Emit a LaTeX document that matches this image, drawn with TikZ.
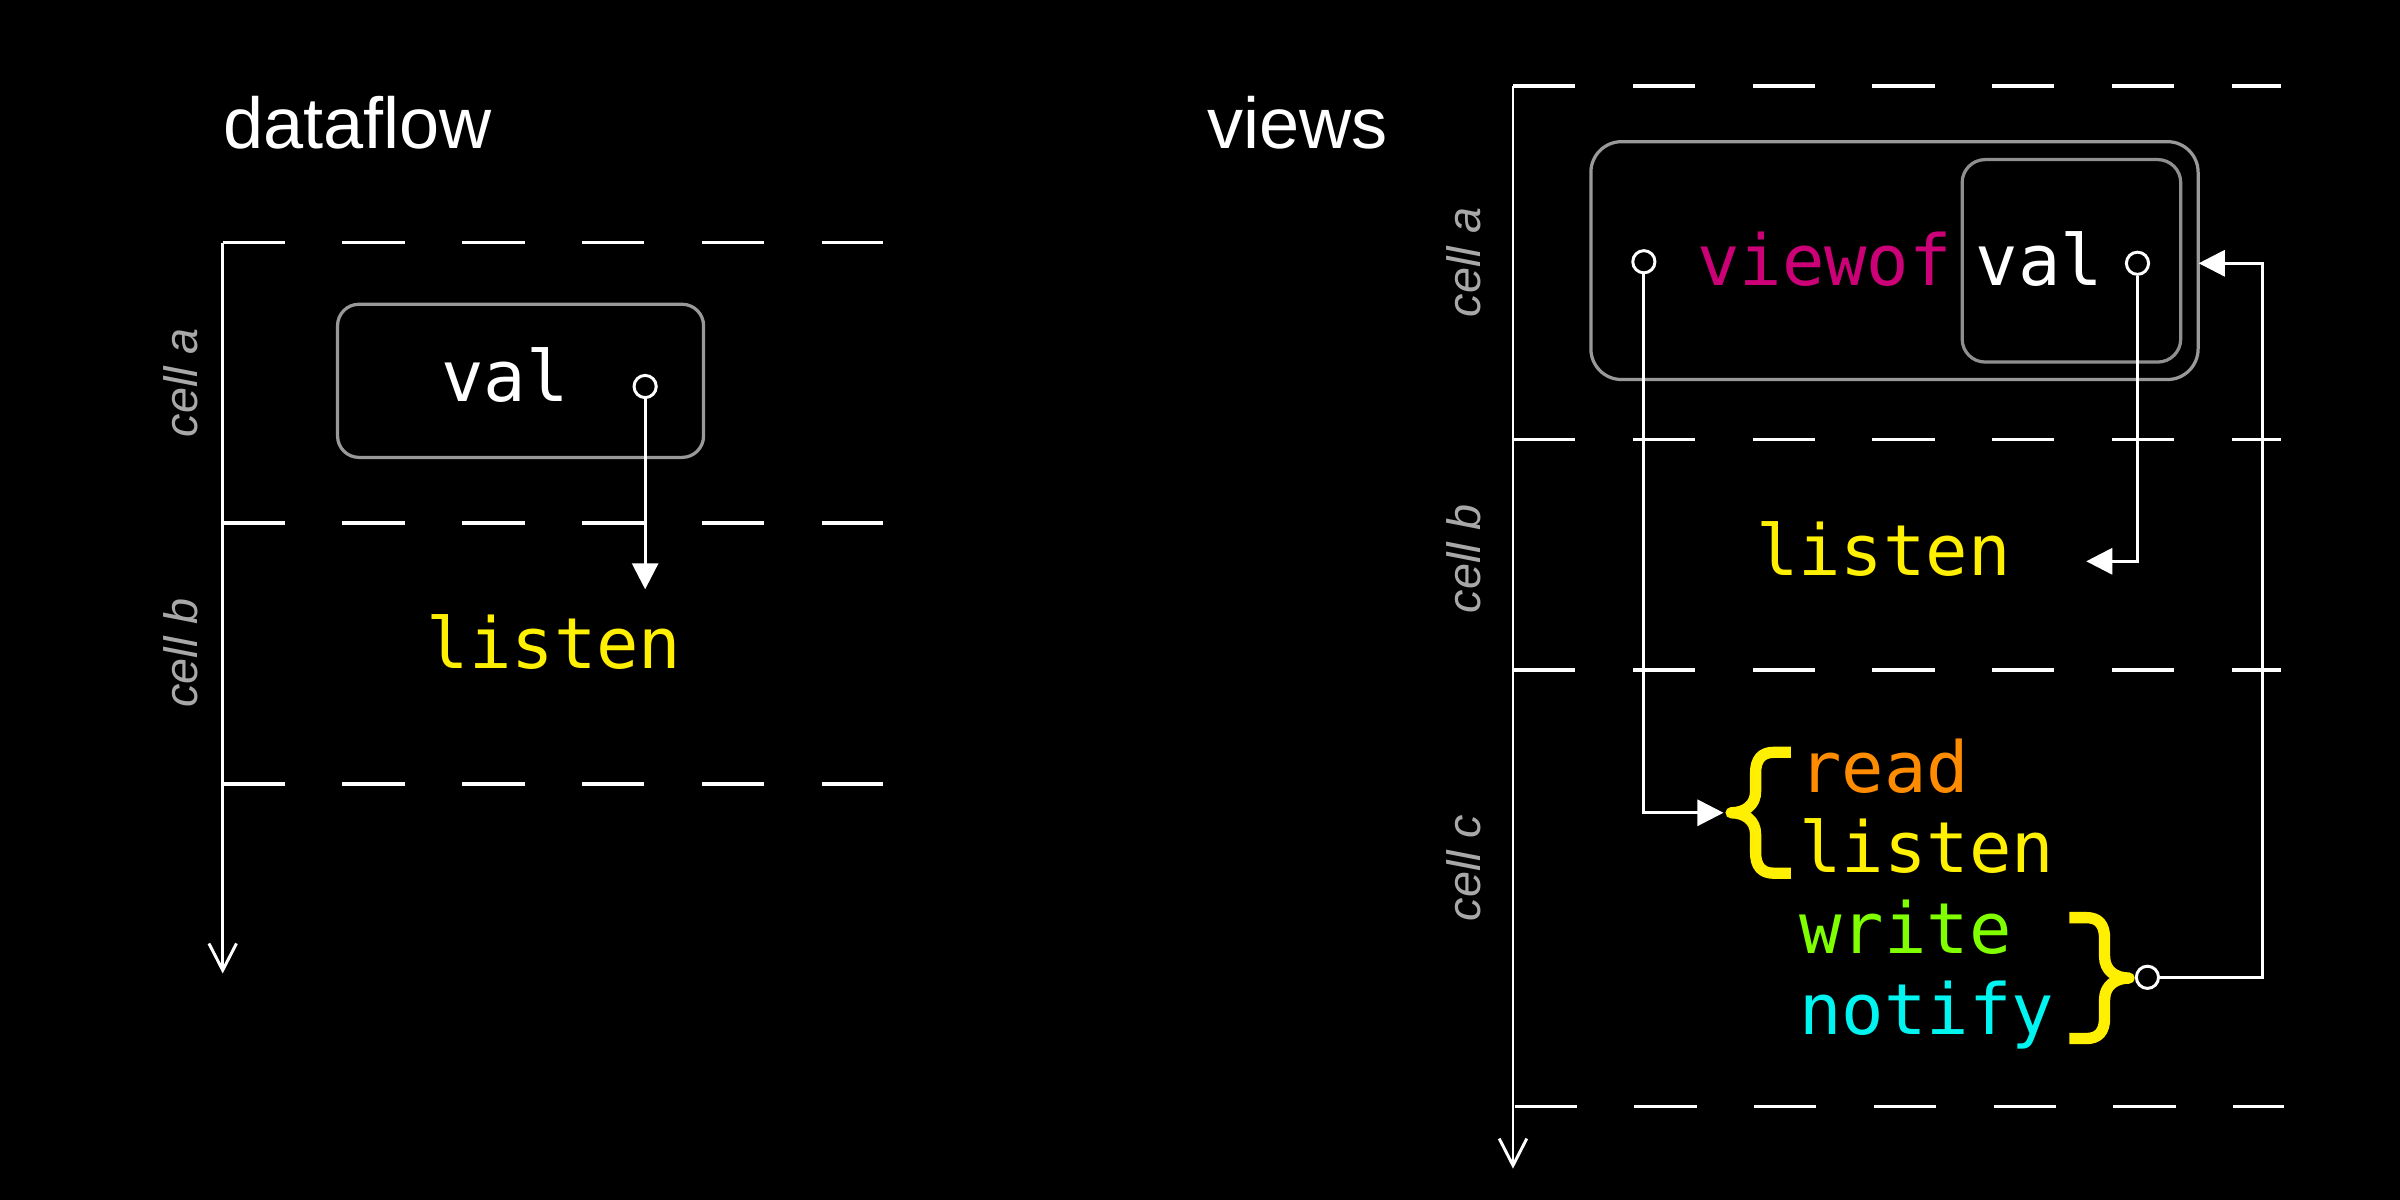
\documentclass[tikz,border=0pt]{standalone}
\usepackage{fontspec}
\setmainfont{Liberation Sans}
\newfontfamily\codefont{DejaVu Sans Mono}
\usetikzlibrary{arrows.meta,calc}
\definecolor{boxgray}{HTML}{999999}
\definecolor{labelgray}{HTML}{A8A8A8}
\definecolor{codeyellow}{HTML}{FFEF00}
\definecolor{codeorange}{HTML}{FF8C00}
\definecolor{codegreen}{HTML}{80FF00}
\definecolor{codecyan}{HTML}{00F5F0}
\definecolor{codemagenta}{HTML}{CC0077}
\begin{document}
\begin{tikzpicture}[x=0.01cm,y=-0.01cm,
  title/.style={text=white, font=\fontsize{13.4}{16}\selectfont, inner sep=0pt, anchor=base west},
  code/.style={font=\codefont\fontsize{13.1}{15}\selectfont, inner sep=0pt, anchor=base},
  celllabel/.style={text=labelgray, font=\itshape\fontsize{8.7}{10}\selectfont, rotate=90, inner sep=0pt, anchor=base},
  gbox/.style={draw=boxgray, line width=0.6pt, inner sep=0pt},
  port/.style={circle, draw=white, fill=black, line width=0.55pt, minimum size=1.45mm, inner sep=0pt},
  conn/.style={draw=white, line width=0.55pt, -{Triangle[length=1.7mm,width=1.7mm]}},
  axisline/.style={draw=white, line width=0.55pt, -{Straight Barb[length=1.75mm,width=1.8mm]}},
  cellline/.style={draw=white, line width=0.65pt, dash pattern=on 4.07mm off 3.75mm},
  bracepath/.style={draw=codeyellow, line width=2.1pt, line cap=butt, line join=round}
]
\fill[black] (0,0) rectangle (1568,784);
\useasboundingbox (0,0) rectangle (1568,784);

% ---------- left panel: dataflow ----------
\node[title] (t1) at (145,97) {dataflow};
\coordinate (la0) at (145.5,158.5);
\coordinate (la1) at (145.5,636);
\draw[axisline] (la0) -- (la1);
\draw[cellline] (145.5,158.5) -- (577,158.5);
\draw[cellline] (145.5,341.7) -- (577,341.7);
\draw[cellline] (145.5,512.3) -- (577,512.3);
\node[celllabel] (la) at (129,250) {cell a};
\node[celllabel] (lb) at (129,426.5) {cell b};

\node[gbox, rounded corners=1.4mm, minimum width=2.39cm, minimum height=1.0cm] (vbox) at (340.1,248.8) {};
\node[code, text=white] (val1) at (330,262) {val};
\node[port] (p1) at (421.5,252.5) {};
\node[code, text=codeyellow] (listen1) at (362,437) {listen};
\coordinate (tipA) at (421.5,385);
\draw[conn] (p1) -- (tipA);

% ---------- right panel: views ----------
\node[title] (t2) at (788,97) {views};
\coordinate (ra0) at (988.5,56.3);
\coordinate (ra1) at (988.5,763.5);
\draw[axisline] (ra0) -- (ra1);
\draw[cellline] (988.5,56.3) -- (1490,56.3);
\draw[cellline] (988.5,287) -- (1490,287);
\draw[cellline] (988.5,437.7) -- (1490,437.7);
\draw[cellline] (989.5,723) -- (1492,723);
\node[celllabel] (ra) at (967,171.5) {cell a};
\node[celllabel] (rb) at (967,365) {cell b};
\node[celllabel] (rc) at (967,567) {cell c};

\node[gbox, rounded corners=2mm, minimum width=3.965cm, minimum height=1.553cm] (obox) at (1237.75,170.25) {};
\node[gbox, draw=boxgray!110, rounded corners=1.5mm, minimum width=1.427cm, minimum height=1.322cm] (ibox) at (1353.35,170.4) {};
\node[code, text=codemagenta] (viewof) at (1192,186.4) {viewof};
\node[code, text=white] (val2) at (1332.3,186.4) {val};
\node[port] (p2) at (1074,171) {};
\node[port] (p3) at (1396.5,172) {};

\node[code, text=codeyellow] (listen2) at (1230.5,376) {listen};

\node[code, anchor=base west, text=codeorange] (read) at (1175,517.6) {read};
\node[code, anchor=base west, text=codeyellow] (listen3) at (1175,570.2) {listen};
\node[code, anchor=base west, text=codegreen] (write) at (1175,623) {write};
\node[code, anchor=base west, text=codecyan] (notify) at (1175,675.6) {notify};

% braces
\draw[bracepath] (1170,491.5) -- (1159,491.5)
  .. controls (1151,491.5) and (1147,496) .. (1147,505) -- (1147,517)
  .. controls (1147,526) and (1140,531) .. (1131,531)
  .. controls (1140,531) and (1147,536) .. (1147,545) -- (1147,557)
  .. controls (1147,566) and (1151,570.5) .. (1159,570.5) -- (1170,570.5);
\draw[bracepath] (1352,599.5) -- (1363,599.5)
  .. controls (1371,599.5) and (1375,604) .. (1375,613) -- (1375,625)
  .. controls (1375,634) and (1382,639) .. (1391,639)
  .. controls (1382,639) and (1375,644) .. (1375,653) -- (1375,665)
  .. controls (1375,674) and (1371,678.5) .. (1363,678.5) -- (1352,678.5);
\node[port] (p4) at (1403,638.5) {};

% connectors
\coordinate (tipB) at (1363,366.7);
\coordinate (tipC) at (1126,531);
\coordinate (turn) at (1478,172);
\coordinate (tipD) at (1436.5,172);
\draw[conn] (p3) |- (tipB);
\draw[conn] (p2) |- (tipC);
\draw[conn] (p4) -| (turn) -- (tipD);
\end{tikzpicture}
\end{document}
